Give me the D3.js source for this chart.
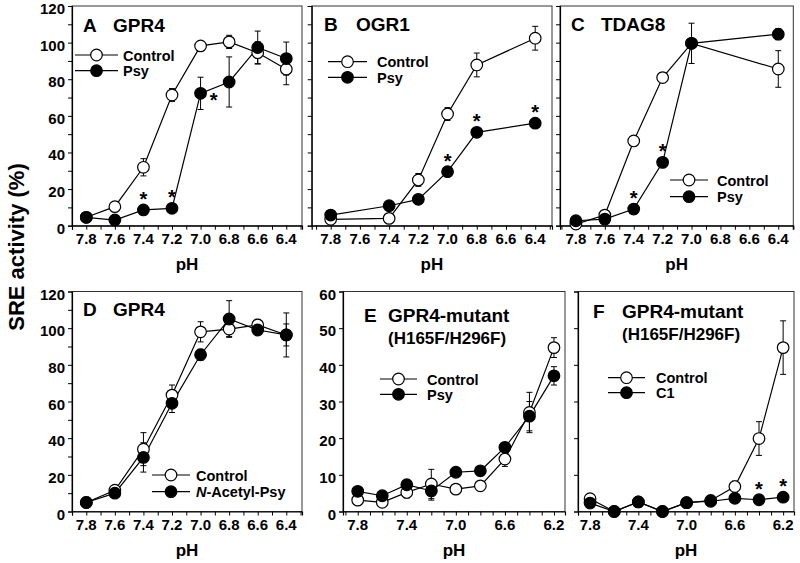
<!DOCTYPE html>
<html><head><meta charset="utf-8">
<script src="https://cdn.jsdelivr.net/npm/d3@7"></script>
<style>
body{margin:0;background:#fff}
text{font-family:"Liberation Sans",Arial,sans-serif;font-weight:bold;fill:#000}
</style>
</head><body>
<svg id="chart" width="800" height="563"></svg>
<script>
// ---------------- DATA ----------------
const phA = [7.8, 7.6, 7.4, 7.2, 7.0, 6.8, 6.6, 6.4];
const ctrlA = [4.6, 10.4, 31.9, 71.4, 98.2, 100.4, 94.5, 85.5];
const ctrlAErr = [0, 0, 4.7, 3.5, 0, 3.6, 6, 8.5];
const psyA = [4.6, 3.1, 8.6, 9.5, 72.3, 78.5, 97.3, 91.3];
const psyAErr = [0, 0, 0, 0, 8.8, 13.7, 9, 9];
const starsA = [7.4, 7.2, 7.0];

const phB = [7.8, 7.4, 7.2, 7.0, 6.8, 6.4];
const ctrlB = [3.5, 4.0, 25, 61, 87.8, 102.4];
const ctrlBErr = [0, 0, 3.5, 3.5, 6.5, 6.5];
const psyB = [5.8, 10.9, 14.4, 29.5, 51, 56];
const psyBErr = [0, 0, 0, 0, 0, 2];
const starsB = [7.0, 6.8, 6.4];

const phC = [7.8, 7.6, 7.4, 7.2, 7.0, 6.4];
const ctrlC = [0.9, 5.8, 46.3, 80.9, 99.6, 85.6];
const ctrlCErr = [0, 0, 0, 0, 11, 10];
const psyC = [2.7, 3.6, 9.1, 34.6, 99.6, 104.6];
const psyCErr = [0, 0, 0, 0, 0, 3];
const starsC = [7.4, 7.2];

const phD = [7.8, 7.6, 7.4, 7.2, 7.0, 6.8, 6.6, 6.4];
const ctrlD = [4.9, 11.6, 34, 63.5, 98, 99.5, 101.8, 96.3];
const ctrlDErr = [0, 0, 9, 5.5, 5.5, 4, 3, 12];
const acetylD = [4.9, 10, 29.5, 59, 85.5, 105, 99, 96.3];
const acetylDErr = [0, 0, 8, 5, 3, 10, 2, 6];

const phE = [7.8, 7.6, 7.4, 7.2, 7.0, 6.8, 6.6, 6.4, 6.2];
const ctrlE = [3.1, 2.5, 5.2, 7.5, 6.1, 7.0, 14.3, 27, 44.7];
const ctrlEErr = [0, 0, 1.5, 4, 0, 0, 2, 5.5, 2.7];
const psyE = [5.5, 4.3, 7.3, 5.6, 10.7, 11.1, 17.5, 26, 37];
const psyEErr = [0, 0, 0, 2.5, 0, 0, 0, 4, 2.5];

const phF = [7.8, 7.6, 7.4, 7.2, 7.0, 6.8, 6.6, 6.4, 6.2];
const ctrlF = [3.5, 0, 2.6, 0, 2.4, 3.0, 6.8, 19.9, 44.7];
const ctrlFErr = [0, 0, 0, 0, 0, 0, 1.5, 4.6, 7.3];
const c1F = [2.3, 0, 2.6, 0, 2.4, 2.8, 3.6, 3.2, 3.9];
const c1FErr = [0, 0, 0, 0, 0, 0, 0, 0, 0];
const starsF = [6.4, 6.2];

const xLabels02 = [7.8, 7.6, 7.4, 7.2, 7.0, 6.8, 6.6, 6.4];
const xLabels04 = [7.8, 7.4, 7.0, 6.6, 6.2];
const yLabels120 = [0, 20, 40, 60, 80, 100, 120];
const yLabels60 = [0, 10, 20, 30, 40, 50, 60];

// ---------------- LAYOUT ----------------
const svg = d3.select("#chart");
const TOP = {y0: 6, y1: 225.7};
const BOT = {y0: 291.5, y1: 511.5};

const panels = [
  {letter:"A", name:"GPR4", box:{x0:72, x1:302, ...TOP}, xd:[7.9, 6.29], yd:[0,120],
   yLab: yLabels120, yMinor:10, xLab: xLabels02, ph: phA,
   series:[{v:ctrlA, e:ctrlAErr, fill:false, label:"Control"}, {v:psyA, e:psyAErr, fill:true, label:"Psy"}],
   stars: starsA, starRight:[7.0], leg:{x0:75, x1:118, tx:123, y:[55, 70.7]},
   title:{lx:83, nx:113, y:25}},
  {letter:"B", name:"OGR1", box:{x0:311.7, x1:552, ...TOP}, xd:[7.93, 6.285], yd:[0,120],
   yLab: null, yMinor:10, xLab: xLabels02, ph: phB,
   series:[{v:ctrlB, e:ctrlBErr, fill:false, label:"Control"}, {v:psyB, e:psyBErr, fill:true, label:"Psy"}],
   stars: starsB, starRight:[], leg:{x0:328, x1:367, tx:377, y:[61.7, 77.3]},
   title:{lx:324, nx:356, y:24}},
  {letter:"C", name:"TDAG8", box:{x0:560, x1:793.3, ...TOP}, xd:[7.91, 6.296], yd:[0,120],
   yLab: null, yMinor:10, xLab: xLabels02, ph: phC,
   series:[{v:ctrlC, e:ctrlCErr, fill:false, label:"Control"}, {v:psyC, e:psyCErr, fill:true, label:"Psy"}],
   stars: starsC, starRight:[], leg:{x0:670, x1:708, tx:717, y:[180, 196.7]},
   title:{lx:571, nx:601, y:24}},
  {letter:"D", name:"GPR4", box:{x0:72, x1:302, ...BOT}, xd:[7.9, 6.29], yd:[0,120],
   yLab: yLabels120, yMinor:10, xLab: xLabels02, ph: phD,
   series:[{v:ctrlD, e:ctrlDErr, fill:false, label:"Control"}, {v:acetylD, e:acetylDErr, fill:true, label:"N-Acetyl-Psy", italicN:true}],
   stars: [], starRight:[], leg:{x0:152, x1:190, tx:196, y:[475, 491.7]},
   title:{lx:83, nx:113, y:309}},
  {letter:"E", name:"GPR4-mutant", sub:"(H165F/H296F)", box:{x0:343, x1:565, ...BOT}, xd:[7.92, 6.11], yd:[0,60],
   yLab: yLabels60, yMinor:null, xLab: xLabels04, ph: phE,
   series:[{v:ctrlE, e:ctrlEErr, fill:false, label:"Control"}, {v:psyE, e:psyEErr, fill:true, label:"Psy"}],
   stars: [], starRight:[], leg:{x0:380, x1:417, tx:427, y:[379, 394.3]},
   title:{lx:364, nx:388, y:315, sy:338}},
  {letter:"F", name:"GPR4-mutant", sub:"(H165F/H296F)", box:{x0:578, x1:794, ...BOT}, xd:[7.9, 6.11], yd:[0,60],
   yLab: null, yMinor:10, xLab: xLabels04, ph: phF,
   series:[{v:ctrlF, e:ctrlFErr, fill:false, label:"Control"}, {v:c1F, e:c1FErr, fill:true, label:"C1"}],
   stars: starsF, starRight:[], leg:{x0:608, x1:645, tx:656, y:[377.7, 392.7]},
   title:{lx:593, nx:622, y:311, sy:334}}
];

const R = 5.8;

panels.forEach(p => {
  const b = p.box;
  const x = d3.scaleLinear().domain(p.xd).range([b.x0, b.x1]);
  const y = d3.scaleLinear().domain(p.yd).range([b.y1, b.y0]);
  const g = svg.append("g");

  // frame
  g.append("rect").attr("x", b.x0).attr("y", b.y0).attr("width", b.x1 - b.x0).attr("height", b.y1 - b.y0)
    .attr("fill", "none").attr("stroke", "#333").attr("stroke-width", 1);

  // x axis ticks (every 0.1)
  const xt = d3.range(Math.round(p.xd[1]*10), Math.round(p.xd[0]*10)+1).map(v => v/10)
      .filter(v => v <= p.xd[0] && v >= p.xd[1]);
  const xAxis = d3.axisBottom(x).tickValues(xt).tickSize(4).tickFormat("");
  const gx = g.append("g").attr("transform", `translate(0,${b.y1})`).call(xAxis);
  gx.select(".domain").attr("stroke", "#000").attr("stroke-width", 1.2);
  gx.selectAll(".tick line").attr("stroke", "#000").attr("stroke-width", 1);
  g.selectAll(".xl").data(p.xLab).join("text")
    .attr("x", d => x(d)).attr("y", b.y1 + 18)
    .attr("text-anchor", "middle").attr("font-size", 15).text(d => d.toFixed(1));
  g.append("text").attr("x", (b.x0 + b.x1)/2).attr("y", b.y1 + 44)
    .attr("text-anchor", "middle").attr("font-size", 17).text("pH");

  // y axis ticks
  const step = p.yMinor || 10;
  const yt = d3.range(p.yd[0], p.yd[1] + 0.001, step);
  const yAxis = d3.axisLeft(y).tickValues(yt).tickSize(4).tickFormat("");
  const gy = g.append("g").attr("transform", `translate(${b.x0},0)`).call(yAxis);
  gy.select(".domain").attr("stroke", "#000").attr("stroke-width", 1.2);
  gy.selectAll(".tick line").attr("stroke", "#000").attr("stroke-width", 1);
  if (p.yLab) {
    g.selectAll(".yl").data(p.yLab).join("text")
      .attr("x", b.x0 - 7).attr("y", d => y(d) + 8)
      .attr("text-anchor", "end").attr("font-size", 15).text(d => d);
  }

  // lines
  const line = d3.line().x(d => x(d[0])).y(d => y(d[1]));
  p.series.forEach(s => {
    g.append("path").datum(p.ph.map((ph, i) => [ph, s.v[i]]))
      .attr("d", line).attr("fill", "none").attr("stroke", "#000").attr("stroke-width", 1.2);
  });
  // error bars
  p.series.forEach(s => {
    p.ph.forEach((ph, i) => {
      const e = s.e[i];
      if (!e) return;
      const cx = x(ph);
      const ya = y(s.v[i] + e), yb = y(s.v[i] - e);
      g.append("line").attr("x1", cx).attr("x2", cx).attr("y1", ya).attr("y2", yb)
        .attr("stroke", "#000").attr("stroke-width", 1);
      [ya, yb].forEach(yy => g.append("line").attr("x1", cx - 3).attr("x2", cx + 3)
        .attr("y1", yy).attr("y2", yy).attr("stroke", "#000").attr("stroke-width", 1));
    });
  });
  // markers
  p.series.forEach(s => {
    g.selectAll(null).data(p.ph.map((ph, i) => [ph, s.v[i]])).join("circle")
      .attr("cx", d => x(d[0])).attr("cy", d => y(d[1])).attr("r", R)
      .attr("fill", s.fill ? "#000" : "#fff").attr("stroke", "#000").attr("stroke-width", 1.2);
  });
  // significance stars (on the treated series)
  const s2 = p.series[1];
  p.stars.forEach(ph => {
    const i = p.ph.indexOf(ph);
    const cx = x(ph), cy = y(s2.v[i]);
    const right = p.starRight.includes(ph);
    const sx = right ? cx + 13 : cx;
    const sy = right ? cy + 3 : cy - 15;
    g.append("text").attr("x", sx).attr("y", sy + 11).attr("text-anchor", "middle")
      .attr("font-size", 20).text("*");
  });

  // legend
  const L = p.leg;
  p.series.forEach((s, k) => {
    const ly = L.y[k];
    g.append("line").attr("x1", L.x0).attr("x2", L.x1).attr("y1", ly).attr("y2", ly)
      .attr("stroke", "#000").attr("stroke-width", 1.2);
    g.append("circle").attr("cx", (L.x0 + L.x1)/2).attr("cy", ly).attr("r", R)
      .attr("fill", s.fill ? "#000" : "#fff").attr("stroke", "#000").attr("stroke-width", 1.2);
    const t = g.append("text").attr("x", L.tx).attr("y", ly + 5.5).attr("font-size", 14.5);
    if (s.italicN) {
      t.append("tspan").attr("font-style", "italic").text("N");
      t.append("tspan").text(s.label.slice(1));
    } else t.text(s.label);
  });

  // title
  const T = p.title;
  g.append("text").attr("x", T.lx).attr("y", T.y + 7).attr("font-size", 19).text(p.letter);
  g.append("text").attr("x", T.nx).attr("y", T.y + 7).attr("font-size", 19).text(p.name);
  if (p.sub) g.append("text").attr("x", T.nx).attr("y", T.sy + 6).attr("font-size", 17).text(p.sub);
});

// shared y label
svg.append("text").attr("transform", "translate(16,247) rotate(-90)")
  .attr("text-anchor", "middle").attr("dominant-baseline", "central")
  .attr("font-size", 22).text("SRE activity (%)");
</script>
</body></html>
